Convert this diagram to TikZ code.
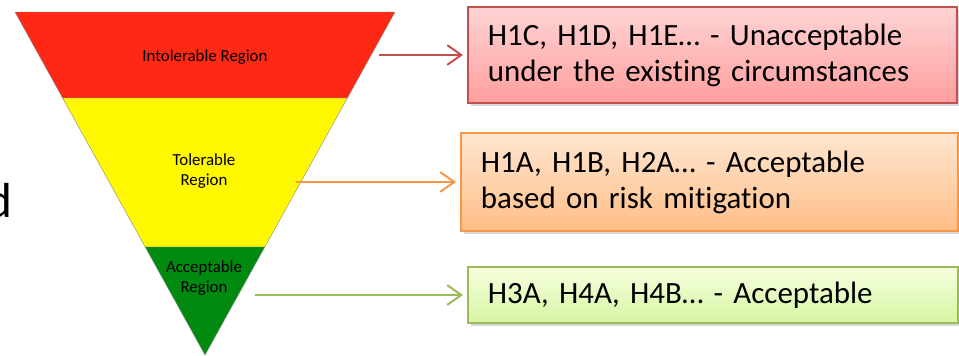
\documentclass[tikz,border=0pt]{standalone}
\usepackage{fontspec}
\setmainfont[Ligatures=NoCommon]{Carlito}
\usetikzlibrary{arrows.meta,shadows}
\definecolor{bandred}{RGB}{255,40,20}
\definecolor{bandyellow}{RGB}{255,248,0}
\definecolor{bandgreen}{RGB}{0,138,16}
\definecolor{linered}{RGB}{192,80,77}
\definecolor{lineorange}{RGB}{247,150,70}
\definecolor{linegreen}{RGB}{155,187,89}
\definecolor{redtop}{RGB}{255,212,212}
\definecolor{redbot}{RGB}{255,158,158}
\definecolor{orangetop}{RGB}{255,230,208}
\definecolor{orangebot}{RGB}{255,190,135}
\definecolor{greentop}{RGB}{246,255,222}
\definecolor{greenbot}{RGB}{214,245,162}
\begin{document}
\begin{tikzpicture}[x=0.025cm,y=-0.025cm,
  band/.style={draw=black!45,line width=0.3pt},
  bandtext/.style={font=\fontsize{12}{14}\selectfont,align=center,inner sep=0pt},
  riskbox/.style={draw=#1,line width=1pt,align=left,inner xsep=0.5cm,
    font=\fontsize{22}{25.6}\selectfont,
    drop shadow={shadow xshift=2pt,shadow yshift=-2pt,opacity=0.3}},
  link/.style={draw=#1,line width=1.4pt,-{Straight Barb[length=10pt,width=14pt]},shorten >=3pt}]
\clip (0,0) rectangle (959,355);
% the inverted triangle
\draw[band,fill=bandred] (15,12) -- (395,12) -- (347.4,98) -- (62.6,98) -- cycle;
\draw[band,fill=bandyellow] (62.6,98) -- (347.4,98) -- (264.8,247) -- (145.2,247) -- cycle;
\draw[band,fill=bandgreen] (145.2,247) -- (264.8,247) -- (205,355) -- cycle;
\node[bandtext] (intol) at (205,57) {Intolerable Region};
\node[bandtext] (tolr) at (204,171) {Tolerable\\Region};
\node[bandtext] (accr) at (204,278) {Acceptable\\Region};
\node[font=\fontsize{35}{40}\selectfont,anchor=base east,inner sep=0pt] (cutd) at (13,217) {d};
% the boxes
\node[riskbox=linered,top color=redtop,bottom color=redbot,text width=11.225cm,minimum height=2.4cm]
  (unacc) at (712.5,55) {H1C, H1D, H1E… - Unacceptable\\under the existing circumstances};
\node[riskbox=lineorange,top color=orangetop,bottom color=orangebot,text width=11.425cm,minimum height=2.45cm]
  (mitig) at (709.5,182) {H1A, H1B, H2A… - Acceptable\\based on risk mitigation};
\node[riskbox=linegreen,top color=greentop,bottom color=greenbot,text width=11.25cm,minimum height=1.4cm]
  (accept) at (713,295) {H3A, H4A, H4B… - Acceptable};
% arrows
\coordinate (fromred) at (379,55);
\coordinate (fromyellow) at (296,182);
\coordinate (fromgreen) at (255,295);
\draw[link=linered] (fromred) -- (unacc.west);
\draw[link=lineorange] (fromyellow) -- (mitig.west);
\draw[link=linegreen] (fromgreen) -- (accept.west);
\end{tikzpicture}
\end{document}
